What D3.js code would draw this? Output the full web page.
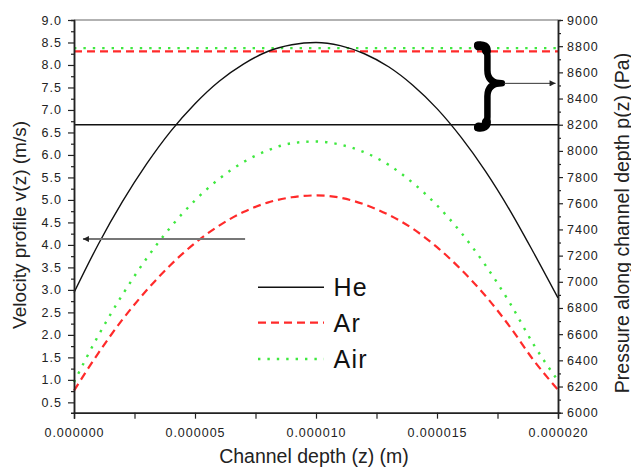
<!DOCTYPE html>
<html>
<head>
<meta charset="utf-8">
<script src="https://cdn.jsdelivr.net/npm/d3@7"></script>
<style>
  body { margin: 0; background: #fff; }
  svg text { font-family: "Liberation Sans", Arial, sans-serif; }
  .tick text { font-size: 12.5px; letter-spacing: 1px; fill: #222; }
</style>
</head>
<body>
<div id="chart"></div>
<script>
// channel depth samples (m)
const depth = [0, 0.000001, 0.000002, 0.000003, 0.000004, 0.000005, 0.000006,
  0.000007, 0.000008, 0.000009, 0.000010, 0.000011, 0.000012, 0.000013,
  0.000014, 0.000015, 0.000016, 0.000017, 0.000018, 0.000019, 0.000020];

// velocity profiles v(z) (m/s)
const heVel  = [2.94, 4.01, 4.96, 5.80, 6.53, 7.14, 7.64, 8.02, 8.30, 8.45, 8.50,
  8.43, 8.25, 7.96, 7.55, 7.03, 6.39, 5.64, 4.78, 3.82, 2.82];
const arVel  = [0.76, 1.59, 2.34, 2.99, 3.56, 4.04, 4.43, 4.73, 4.94, 5.06, 5.10,
  5.05, 4.90, 4.67, 4.36, 3.95, 3.45, 2.87, 2.19, 1.43, 0.78];
const airVel = [0.95, 1.98, 2.89, 3.70, 4.40, 4.99, 5.47, 5.84, 6.10, 6.26, 6.30,
  6.23, 6.06, 5.78, 5.38, 4.88, 4.27, 3.55, 2.72, 1.78, 0.98];

// pressure along channel depth (Pa), constant per gas
const gases = ["He", "Ar", "Air"];
const gasPressure = [8200, 8760, 8785];

const velTicks = [0.5, 1.0, 1.5, 2.0, 2.5, 3.0, 3.5, 4.0, 4.5, 5.0, 5.5, 6.0, 6.5, 7.0, 7.5, 8.0, 8.5, 9.0];
const velMinor = [0.75, 1.25, 1.75, 2.25, 2.75, 3.25, 3.75, 4.25, 4.75, 5.25, 5.75, 6.25, 6.75, 7.25, 7.75, 8.25, 8.75];
const presTicks = [6000, 6200, 6400, 6600, 6800, 7000, 7200, 7400, 7600, 7800, 8000, 8200, 8400, 8600, 8800, 9000];
const presMinor = [6100, 6300, 6500, 6700, 6900, 7100, 7300, 7500, 7700, 7900, 8100, 8300, 8500, 8700, 8900];
const depthTicks = [0, 0.000005, 0.000010, 0.000015, 0.000020];
const depthMinor = [0.0000025, 0.0000075, 0.0000125, 0.0000175];

const W = 631, H = 468;
const margin = {top: 20, right: 73, bottom: 55.3, left: 74};

const svg = d3.select('#chart').append('svg')
  .attr('width', W)
  .attr('height', H);

const x = d3.scaleLinear().domain([0, 0.00002]).range([margin.left, W - margin.right]);
const yV = d3.scaleLinear().domain([0.27, 9]).range([H - margin.bottom, margin.top]);
const yP = d3.scaleLinear().domain([6000, 9000]).range([H - margin.bottom, margin.top]);

var styles = {
  He:  {stroke: "#111", width: 1.4, dash: null},
  Ar:  {stroke: "#ff2a2a", width: 2.2, dash: "8,5"},
  Air: {stroke: "#3fe83f", width: 2.4, dash: "2.4,7"}
};

// arrow heads
var defs = svg.append('defs');
defs.append('marker')
  .attr('id', 'head')
  .attr('viewBox', '0 0 10 10')
  .attr('refX', 10).attr('refY', 5)
  .attr('markerWidth', 10).attr('markerHeight', 6)
  .attr('markerUnits', 'userSpaceOnUse')
  .attr('orient', 'auto')
  .append('path').attr('d', 'M0,0 L10,5 L0,10 z').attr('fill', '#222');

// frame top
svg.append('line')
  .attr('x1', x.range()[0]).attr('x2', x.range()[1])
  .attr('y1', margin.top).attr('y2', margin.top)
  .attr('stroke', '#999').attr('stroke-width', 1.5);

// pressure lines (right axis)
gases.forEach((g, i) => {
  var s = styles[g];
  svg.append('line')
    .attr('x1', x.range()[0]).attr('x2', x.range()[1])
    .attr('y1', yP(gasPressure[i])).attr('y2', yP(gasPressure[i]))
    .attr('stroke', s.stroke)
    .attr('stroke-width', s.width)
    .attr('stroke-dasharray', s.dash);
});

// velocity curves (left axis)
var series = {He: heVel, Ar: arVel, Air: airVel};
var line = d3.line()
  .x((d, i) => x(depth[i]))
  .y(d => yV(d))
  .curve(d3.curveMonotoneX);

gases.forEach(g => {
  var s = styles[g];
  svg.append('path')
    .datum(series[g])
    .attr('d', line)
    .attr('fill', 'none')
    .attr('stroke', s.stroke)
    .attr('stroke-width', s.width)
    .attr('stroke-dasharray', s.dash);
});

// axes
function styleAxis(g) {
  g.select('.domain').attr('stroke', '#222').attr('stroke-width', 1.5);
  g.selectAll('.tick line').attr('stroke', '#222').attr('stroke-width', 1.2);
  g.selectAll('.tick text').attr('font-size', null).attr('font-family', null);
}

svg.append('g')
  .attr('transform', 'translate(' + margin.left + ',0)')
  .call(d3.axisLeft(yV).tickValues(velMinor).tickSize(3).tickFormat(''))
  .call(styleAxis);
svg.append('g')
  .attr('transform', 'translate(' + margin.left + ',0)')
  .call(d3.axisLeft(yV).tickValues(velTicks).tickSize(6).tickSizeOuter(0).tickPadding(6).tickFormat(d3.format('.1f')))
  .call(styleAxis);

svg.append('g')
  .attr('transform', 'translate(' + (W - margin.right) + ',0)')
  .call(d3.axisRight(yP).tickValues(presMinor).tickSize(3).tickFormat(''))
  .call(styleAxis);
svg.append('g')
  .attr('transform', 'translate(' + (W - margin.right) + ',0)')
  .call(d3.axisRight(yP).tickValues(presTicks).tickSize(5).tickSizeOuter(0).tickPadding(4).tickFormat(d3.format('d')))
  .call(styleAxis);

svg.append('g')
  .attr('transform', 'translate(0,' + (H - margin.bottom) + ')')
  .call(d3.axisBottom(x).tickValues(depthMinor).tickSize(6).tickFormat(''))
  .call(styleAxis);
svg.append('g')
  .attr('transform', 'translate(0,' + (H - margin.bottom) + ')')
  .call(d3.axisBottom(x).tickValues(depthTicks).tickSize(6).tickSizeOuter(0).tickPadding(9.7).tickFormat(d3.format('.6f')))
  .call(styleAxis);

// axis titles
svg.append('text')
  .attr('x', 314).attr('y', 462.5)
  .attr('text-anchor', 'middle')
  .attr('font-size', 19.5).attr('fill', '#222')
  .text('Channel depth (z) (m)');

svg.append('text')
  .attr('transform', 'translate(25.5,' + 225 + ') rotate(-90)')
  .attr('text-anchor', 'middle')
  .attr('font-size', 19).attr('fill', '#222')
  .text('Velocity profile v(z) (m/s)');

svg.append('text')
  .attr('transform', 'translate(628.5,' + 223 + ') rotate(-90)')
  .attr('text-anchor', 'middle')
  .attr('font-size', 19.5).attr('fill', '#222')
  .text('Pressure along channel depth p(z) (Pa)');

// legend
var legendY = [287.3, 322.7, 359];
gases.forEach((g, i) => {
  var s = styles[g];
  svg.append('line')
    .attr('x1', 258).attr('x2', 324)
    .attr('y1', legendY[i]).attr('y2', legendY[i])
    .attr('stroke', s.stroke)
    .attr('stroke-width', s.width)
    .attr('stroke-dasharray', s.dash);
  svg.append('text')
    .attr('x', 333.5).attr('y', legendY[i] + 8.8)
    .attr('font-size', 25).attr('letter-spacing', 1.3)
    .attr('fill', '#111')
    .text(g);
});

// arrow to left axis
svg.append('line')
  .attr('x1', x(0.00000707)).attr('x2', x(0.00000037))
  .attr('y1', yV(4.13)).attr('y2', yV(4.13))
  .attr('stroke', '#777').attr('stroke-width', 2)
  .attr('marker-end', 'url(#head)');

// brace and arrow to right axis
var bx = x(0.00001667), tipX = x(0.00001768);
var bTop = yP(8810), bBot = yP(8175), bMid = yP(8516);
var spine = bx + 10;
var bp = d3.path();
bp.moveTo(bx, bTop);
bp.quadraticCurveTo(spine, bTop, spine, bTop + 11);
bp.lineTo(spine, bMid - 13);
bp.quadraticCurveTo(spine, bMid, tipX, bMid);
bp.quadraticCurveTo(spine, bMid, spine, bMid + 13);
bp.lineTo(spine, bBot - 11);
bp.quadraticCurveTo(spine, bBot, bx, bBot);
svg.append('path')
  .attr('d', bp.toString())
  .attr('fill', 'none')
  .attr('stroke', '#000')
  .attr('stroke-width', 6.5)
  .attr('stroke-linecap', 'round')
  .attr('stroke-linejoin', 'round');

// heavier hook ends of the brace
[[bTop, 1], [bBot, -1]].forEach(([yy, dir]) => {
  svg.append('path')
    .attr('d', 'M' + (bx + 1) + ',' + (yy + dir * 1) + ' Q' + (spine - 1) + ',' + yy + ' ' + (spine - 1) + ',' + (yy + dir * 6))
    .attr('fill', 'none')
    .attr('stroke', '#000')
    .attr('stroke-width', 9)
    .attr('stroke-linecap', 'round');
});

svg.append('line')
  .attr('x1', tipX + 2).attr('x2', x(0.0000199))
  .attr('y1', bMid).attr('y2', bMid)
  .attr('stroke', '#333').attr('stroke-width', 1)
  .attr('marker-end', 'url(#head)');
</script>
</body>
</html>
